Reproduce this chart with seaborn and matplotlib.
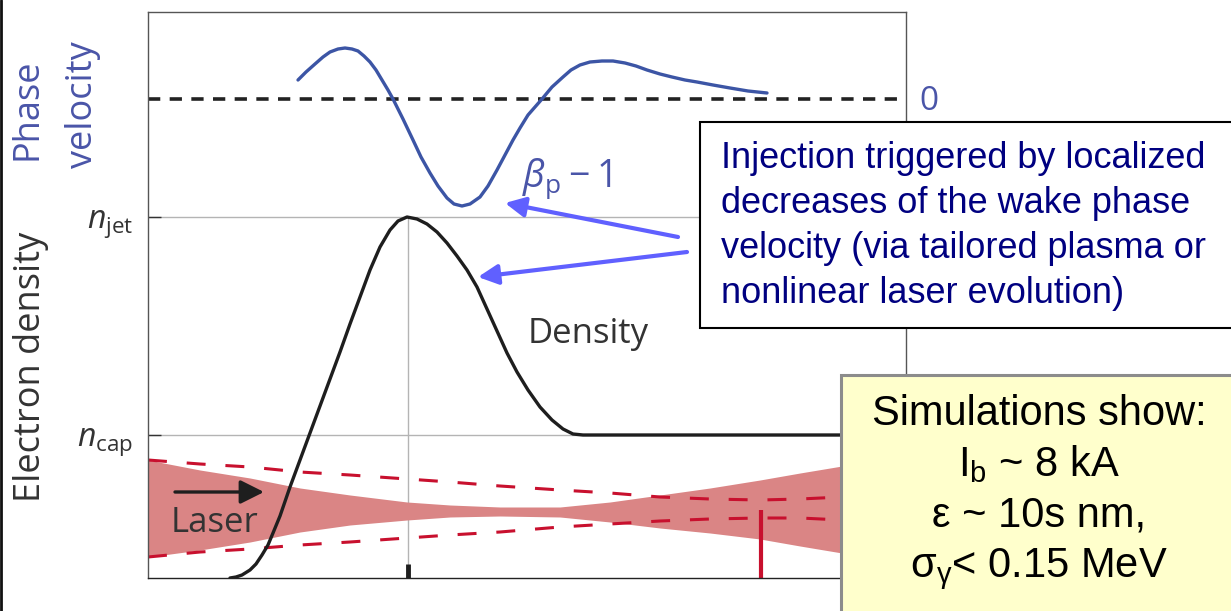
import numpy as np
import matplotlib
matplotlib.use("Agg")
import matplotlib.pyplot as plt
import matplotlib.patches as patches
import seaborn as sns

# ---- data (plot units: x along the jet, y height above the axis) ----
phase_x = [150, 158, 167, 175, 182, 190, 197, 204, 210, 216, 222, 228, 234, 240,
           245, 255, 265, 273, 282, 290, 299, 306, 314, 322, 332, 340, 349, 357,
           365, 372, 380, 387, 394, 404, 415, 423, 432, 442, 454, 465, 477, 488,
           499, 512, 524, 537, 549, 565, 582, 600, 619]
phase_y = [498, 506, 514, 521, 526, 529, 530, 529, 527, 522, 516, 508, 498, 488,
           479, 459, 438, 421, 405, 392, 380, 374, 372, 374, 381, 392, 408, 423,
           438, 450, 463, 471, 479, 491, 501, 508, 513, 516, 517, 517, 515, 512,
           508, 504, 501, 498, 496, 493, 490, 487, 485]
zero_level = 479

density_x = [82, 88, 94, 102, 108, 114, 120, 125, 132, 142, 152, 162, 172, 182,
             192, 202, 212, 222, 232, 242, 250, 259, 269, 279, 289, 299, 309, 319,
             329, 339, 349, 359, 369, 380, 392, 404, 415, 425, 435, 758]
density_y = [0, 1, 3, 8, 14, 23, 33, 45, 62, 91, 118, 145, 172, 199,
             226, 254, 281, 308, 331, 348, 357, 361, 359, 354, 346, 335, 322, 308,
             291, 269, 247, 225, 206, 188, 171, 158, 149, 144, 143, 143]

n_levels = [143, 361]
n_labels = [r"$n_{\rm cap}$", r"$n_{\rm jet}$"]
peak_x = [260]

laser_x = [0, 52, 102, 152, 202, 259, 302, 352, 412, 462, 512, 562, 612, 652, 694, 758]
laser_upper = [118, 108, 100, 90, 83, 76, 73, 71, 71, 76, 83, 90, 98, 105, 112, 123]
laser_lower = [21, 28, 36, 46, 53, 58, 61, 62, 61, 56, 50, 45, 39, 32, 25, 14]
cone_upper = [118, 114, 111, 106, 103, 99, 96, 92, 88, 85, 81, 79, 78, 79, 81, 82]
cone_lower = [21, 26, 29, 33, 36, 40, 43, 46, 51, 54, 57, 59, 60, 60, 58, 57]
focus_x = [613]
focus_top = 68

box_lines = ["Injection triggered by localized",
             "decreases of the wake phase",
             "velocity (via tailored plasma or",
             "nonlinear laser evolution)"]
sim_lines = ["Simulations show:",
             r"I$_{\mathregular{b}}$ ~ 8 kA",
             "ε ~ 10s nm,",
             r"σ$_{\mathregular{γ}}$< 0.15 MeV"]

# ---- style ----
sns.set_style("white")
plt.rcParams["font.family"] = ["Open Sans", "DejaVu Sans"]
plt.rcParams["mathtext.fontset"] = "custom"
plt.rcParams["mathtext.rm"] = "Open Sans"
plt.rcParams["mathtext.it"] = "Open Sans:italic"
plt.rcParams["lines.solid_joinstyle"] = "round"
plt.rcParams["lines.solid_capstyle"] = "round"

BLUE = "#3c55a5"
LBLUE = "#4a55a8"
RED = "#c8102e"
DARK = "#1e1e1e"
GREY = "#b4b4b4"

W, H = 1231, 611
fig = plt.figure(figsize=(W / 100, H / 100), dpi=100)
fig.patch.set_facecolor("white")

L, R, T, B = 148, 906, 12, 578
ax = fig.add_axes([L / W, 1 - B / H, (R - L) / W, (B - T) / H])
ax.set_xlim(0, R - L)
ax.set_ylim(0, B - T)

# reference levels
ax.set_yticks(n_levels)
ax.set_yticklabels(n_labels)
ax.grid(axis="y", color=GREY, lw=1)
ax.set_axisbelow(True)
ax.vlines(peak_x, 0, n_levels[1], color=GREY, lw=1, zorder=0.5)
ax.set_xticks(peak_x)
ax.tick_params(axis="x", bottom=True, direction="in", length=10, width=3.5,
               color=DARK, labelbottom=False)
ax.tick_params(axis="y", left=True, direction="in", length=9.5, width=1,
               color="#333333", labelsize=23, labelcolor="#333333", pad=11)
for s in ax.spines.values():
    s.set_color("#555555")
    s.set_linewidth(1)
ax.spines["bottom"].set_color("#222222")

# laser envelope
ax.fill_between(laser_x, laser_lower, laser_upper, color="#da8585", lw=0, zorder=1)
sns.lineplot(x=laser_x, y=cone_upper, ax=ax, color=RED, lw=2.2, sort=False,
             linestyle=(0, (6.2, 6.5)), zorder=2)
sns.lineplot(x=laser_x, y=cone_lower, ax=ax, color=RED, lw=2.2, sort=False,
             linestyle=(0, (6.2, 6.5)), zorder=2)
ax.vlines(focus_x, 0, focus_top, color=RED, lw=3, zorder=2)

# phase velocity and density
ax.axhline(zero_level, color="#222222", lw=2.6, linestyle=(0, (3.4, 2.6)), zorder=2)
sns.lineplot(x=phase_x, y=phase_y, ax=ax, color=BLUE, lw=2.4, sort=False, zorder=3)
sns.lineplot(x=density_x, y=density_y, ax=ax, color=DARK, lw=2.4, sort=False, zorder=3)

ax.text(440, 235, "Density", fontsize=25, color="#333333", ha="center", va="baseline")
ax.text(419, 391, r"$\beta_{\rm p} - 1$", fontsize=27, color=LBLUE, ha="center",
        va="baseline")
ax.text(67, 46, "Laser", fontsize=25, color="#333333", ha="center", va="baseline")
ax.annotate("", xy=(116, 86), xytext=(27, 86),
            arrowprops=dict(arrowstyle="-|>", color=DARK, lw=2.4, mutation_scale=36,
                            shrinkA=0, shrinkB=0))

ARROW = "#6060ff"
ax.annotate("", xy=(357, 375), xytext=(530, 341),
            arrowprops=dict(arrowstyle="-|>", color=ARROW, lw=3, mutation_scale=30,
                            shrinkA=0, shrinkB=0))
ax.annotate("", xy=(330, 301), xytext=(539, 326),
            arrowprops=dict(arrowstyle="-|>", color=ARROW, lw=3, mutation_scale=30,
                            shrinkA=0, shrinkB=0))

# ---- overlay in figure pixels ----
ov = fig.add_axes([0, 0, 1, 1], zorder=5)
ov.set_xlim(0, W)
ov.set_ylim(H, 0)
ov.axis("off")
ov.patch.set_alpha(0)

ov.plot([1, 1], [0, H], color="#111111", lw=2)
ov.text(28, 109, "Phase", rotation=90, fontsize=26, color=LBLUE, ha="center", va="center")
ov.text(83, 105, "velocity", rotation=90, fontsize=26, color=LBLUE, ha="center", va="center")
ov.text(31, 367, "Electron density", rotation=90, fontsize=26, color="#333333",
        ha="center", va="center")
ov.text(929, 101, "0", fontsize=24, color=LBLUE, ha="center", va="center")

ov.add_patch(patches.Rectangle((700, 122), 620, 206, facecolor="white",
                               edgecolor="black", lw=1.5))
for i, line in enumerate(box_lines):
    ov.text(721, 168 + 45 * i, line, fontsize=26, color="#000080",
            family="Liberation Sans", ha="left", va="baseline")

ov.add_patch(patches.Rectangle((841, 375), 500, 300, facecolor="#ffffcc",
                               edgecolor="#8c8c8c", lw=2.2))
for i, line in enumerate(sim_lines):
    ov.text(1039, 425 + 50.7 * i, line, fontsize=30, color="black",
            family="Liberation Sans", ha="center", va="baseline")

fig.savefig("out.png", dpi=100)
